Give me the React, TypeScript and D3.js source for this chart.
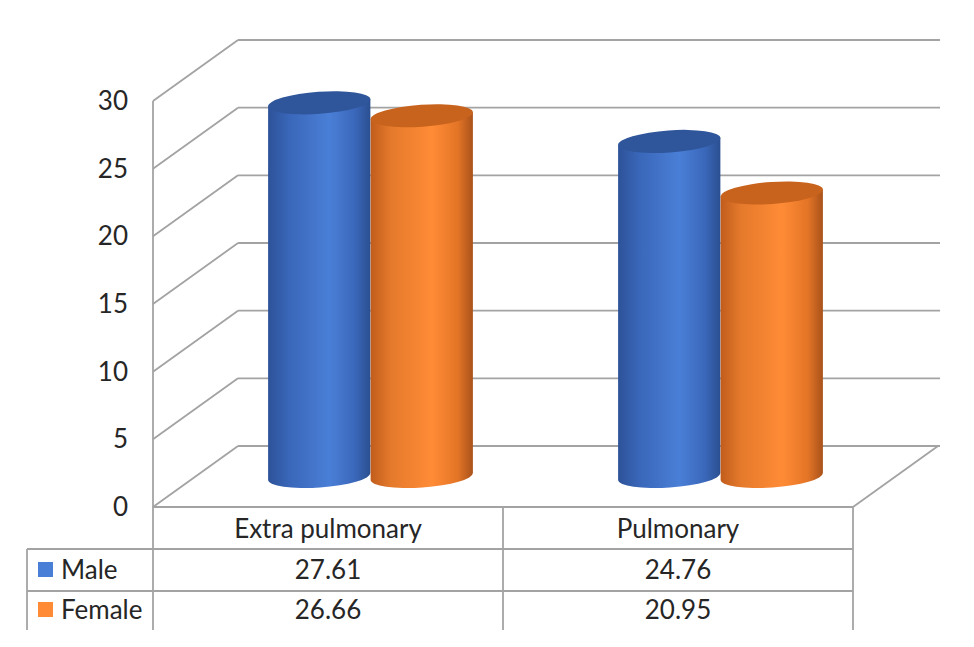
import React from 'react';
import * as d3 from 'd3';

const categories = ['Extra pulmonary', 'Pulmonary'];
const seriesNames = ['Male', 'Female'];
const maleValues = [27.61, 24.76];
const femaleValues = [26.66, 20.95];
const yTicks = [0, 5, 10, 15, 20, 25, 30];

const W = 974;
const H = 647;
const FONT = 'Lato, "Open Sans", sans-serif';
const GRID = '#a3a3a3';
const FS = 26;

const palette: Record<string, { top: string; stops: [number, string][] }> = {
  Male: {
    top: '#2f559b',
    stops: [
      [0, '#2d5298'],
      [0.2, '#3966b8'],
      [0.6, '#4a7fd7'],
      [0.85, '#3a67b9'],
      [1, '#2b4f90'],
    ],
  },
  Female: {
    top: '#c8631e',
    stops: [
      [0, '#c05c1c'],
      [0.2, '#e57a2c'],
      [0.6, '#ff8b36'],
      [0.85, '#e47526'],
      [1, '#a8521a'],
    ],
  },
};

const App: React.FC = () => {
  // front plane
  const y = d3.scaleLinear().domain([0, 30]).range([507, 101]);
  const x = d3.scaleBand().domain(categories).range([153, 853]);
  const inner = d3
    .scaleBand()
    .domain(seriesNames)
    .range([0, x.bandwidth()])
    .paddingInner(0)
    .paddingOuter(0.707);

  // depth offset of the back wall
  const dx = 85;
  const dy = -61;
  const right = 853;

  const values: Record<string, number[]> = { Male: maleValues, Female: femaleValues };

  const rx = inner.bandwidth() / 2;
  const ry = 11;
  const tilt = -4;
  const ex = rx * Math.cos((tilt * Math.PI) / 180);
  const ey = rx * Math.sin((tilt * Math.PI) / 180);

  const tableTop = 507;
  const rowH = 42;
  const tableBottom = 630;
  const legendLeft = 27;

  return (
    <svg width={W} height={H} style={{ position: 'absolute', left: 0, top: 0, background: '#fff' }}>
      <defs>
        {categories.map((c, ci) =>
          seriesNames.map((s) => {
            const x0 = x(c)! + dx / 2 + inner(s)!;
            return (
              <linearGradient
                key={`g-${ci}-${s}`}
                id={`grad-${ci}-${s}`}
                gradientUnits="userSpaceOnUse"
                x1={x0}
                x2={x0 + inner.bandwidth()}
                y1={0}
                y2={0}
              >
                {palette[s].stops.map(([o, col]) => (
                  <stop key={o} offset={o} stopColor={col} />
                ))}
              </linearGradient>
            );
          })
        )}
      </defs>

      {/* back wall gridlines and side wall */}
      {yTicks.map((t) => (
        <g key={`grid-${t}`} stroke={GRID} strokeWidth={1.8} fill="none">
          <line x1={153 + dx} y1={y(t) + dy} x2={right + dx + 2} y2={y(t) + dy} />
          <line x1={153} y1={y(t)} x2={153 + dx} y2={y(t) + dy} />
        </g>
      ))}
      {/* floor */}
      <g stroke={GRID} strokeWidth={1.8} fill="none">
        <line x1={right} y1={y(0)} x2={right + dx} y2={y(0) + dy} />
        <line x1={153} y1={y(0)} x2={right} y2={y(0)} />
        <line x1={153} y1={y(30)} x2={153} y2={tableBottom} />
      </g>

      {/* cylinders */}
      {categories.map((c, ci) =>
        seriesNames.map((s) => {
          const v = values[s][ci];
          const cx = x(c)! + dx / 2 + inner(s)! + rx;
          const yb = y(0) + dy / 2;
          const yt = y(v) + dy / 2;
          const fill = `url(#grad-${ci}-${s})`;
          const body =
            `M${cx - ex},${yt - ey} L${cx - ex},${yb - ey} ` +
            `A${rx},${ry} ${tilt} 0 0 ${cx + ex},${yb + ey} ` +
            `L${cx + ex},${yt + ey} Z`;
          return (
            <g key={`cyl-${ci}-${s}`}>
              <path d={body} fill={fill} />
              <ellipse cx={cx} cy={yt} rx={rx} ry={ry} fill={palette[s].top} transform={`rotate(${tilt},${cx},${yt})`} />
            </g>
          );
        })
      )}

      {/* y axis labels */}
      {yTicks.map((t) => (
        <text
          key={`yl-${t}`}
          x={128}
          y={y(t)}
          dy="0.35em"
          textAnchor="end"
          fontFamily={FONT}
          fontSize={FS}
          fill="#262626"
        >
          {t}
        </text>
      ))}

      {/* data table */}
      <g stroke={GRID} strokeWidth={1.8} fill="none">
        <line x1={legendLeft} y1={tableTop + rowH} x2={right} y2={tableTop + rowH} />
        <line x1={legendLeft} y1={tableTop + rowH * 2} x2={right} y2={tableTop + rowH * 2} />
        <line x1={legendLeft} y1={tableTop + rowH} x2={legendLeft} y2={tableBottom} />
        {categories.map((c) => (
          <line key={`col-${c}`} x1={x(c)! + x.bandwidth()} y1={tableTop} x2={x(c)! + x.bandwidth()} y2={tableBottom} />
        ))}
      </g>
      {categories.map((c) => (
        <text
          key={`cat-${c}`}
          x={x(c)! + x.bandwidth() / 2}
          y={tableTop + rowH / 2 + 1}
          dy="0.35em"
          textAnchor="middle"
          fontFamily={FONT}
          fontSize={FS}
          fill="#262626"
        >
          {c}
        </text>
      ))}
      {seriesNames.map((s, si) => {
        const rowMid = tableTop + rowH * (si + 1) + rowH / 2 - (si === 1 ? 2 : 0);
        return (
          <g key={`row-${s}`}>
            <rect x={38} y={rowMid - 8} width={15} height={15} fill={palette[s].stops[2][1]} />
            <text x={61} y={rowMid} dy="0.35em" fontFamily={FONT} fontSize={FS} fill="#262626">
              {s}
            </text>
            {categories.map((c, ci) => (
              <text
                key={`val-${s}-${c}`}
                x={x(c)! + x.bandwidth() / 2}
                y={rowMid}
                dy="0.35em"
                textAnchor="middle"
                fontFamily={FONT}
                fontSize={FS}
                fill="#262626"
              >
                {values[s][ci].toFixed(2)}
              </text>
            ))}
          </g>
        );
      })}
    </svg>
  );
};

export default App;
